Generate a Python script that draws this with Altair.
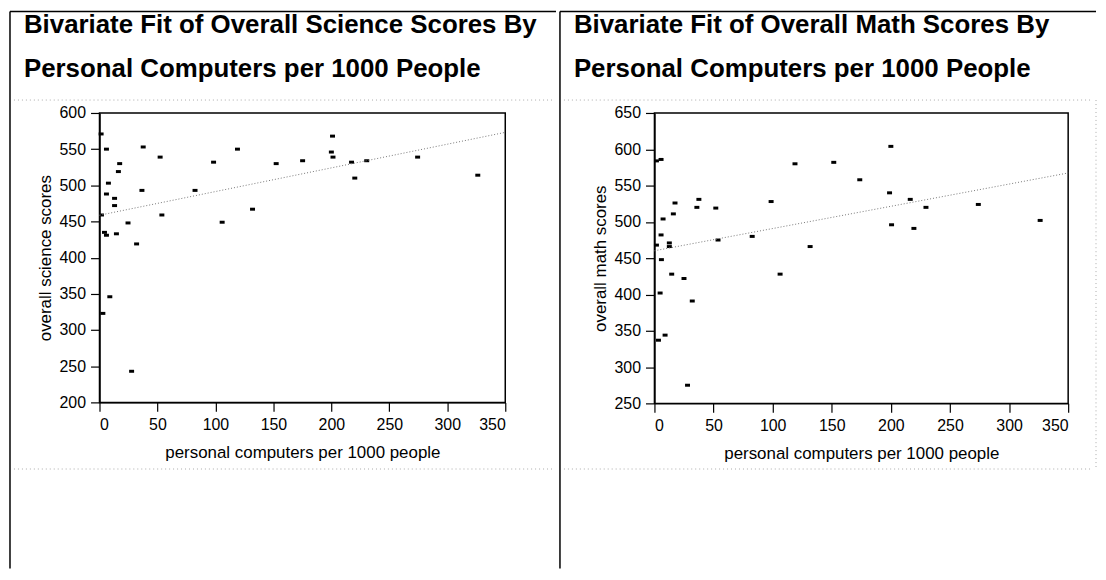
import altair as alt
import pandas as pd

# ---- data ----
sci_pc = [1.4, 1.7, 2.9, 4.3, 6.0, 6.0, 6.0, 7.7, 8.9, 13.0, 13.0, 14.6, 16.3, 17.4,
          24.6, 27.7, 32.0, 36.6, 37.7, 52.3, 53.8, 82.4, 98.4, 105.8, 119.0, 132.0,
          152.4, 175.2, 200.0, 201.0, 201.4, 217.4, 220.2, 230.5, 274.4, 326.3]
sci_scores = [571, 459, 323, 435, 550, 488, 431, 503, 346, 482, 472, 433, 519, 530,
              448, 243, 419, 493, 553, 539, 459, 493, 532, 449, 550, 467,
              530, 534, 546, 568, 539, 532, 510, 534, 539, 514]

math_pc = [1.7, 1.7, 3.4, 4.8, 5.6, 5.6, 5.9, 7.3, 9.0, 12.6, 12.6, 14.6, 16.0, 17.4,
           25.0, 28.0, 32.0, 35.9, 37.6, 51.9, 53.8, 82.7, 98.7, 106.3, 118.9, 131.7,
           151.7, 173.7, 198.9, 200.0, 200.6, 216.4, 219.5, 229.7, 274.0, 326.3]
math_scores = [584, 468, 337, 402, 586, 482, 448, 504, 344, 471, 466, 428, 511, 526,
               422, 275, 391, 520, 531, 519, 475, 480, 528, 428, 580, 466,
               582, 558, 540, 604, 496, 531, 491, 520, 524, 502]

x_ticks = [0, 50, 100, 150, 200, 250, 300, 350]
sci_ticks = [200, 250, 300, 350, 400, 450, 500, 550, 600]
math_ticks = [250, 300, 350, 400, 450, 500, 550, 600, 650]

sci_title = ["Bivariate Fit of Overall Science Scores By", "Personal Computers per 1000 People"]
math_title = ["Bivariate Fit of Overall Math Scores By", "Personal Computers per 1000 People"]
x_label = "personal computers per 1000 people"

FONT = "Liberation Sans"
RECT = "M-1,-0.6L1,-0.6L1,0.6L-1,0.6Z"
one = pd.DataFrame({"k": [0]})


def panel(pc, scores, ylab, yticks, title_lines, w, h, left_off, right_rule, right_border):
    df = pd.DataFrame({"pc": pc, "score": scores})
    xs = alt.Scale(domain=[0, 350], nice=False, zero=False)
    ys = alt.Scale(domain=[yticks[0], yticks[-1]], nice=False, zero=False)
    xenc = alt.X("pc:Q", scale=xs, title=x_label,
                 axis=alt.Axis(values=x_ticks, format="d"))
    yenc = alt.Y("score:Q", scale=ys, title=ylab,
                 axis=alt.Axis(values=yticks, format="d"))
    base = alt.Chart(df)
    pts = base.mark_point(shape=RECT, filled=True, color="black", size=25,
                          opacity=1).encode(x=xenc, y=yenc)
    fit = base.transform_regression("pc", "score", extent=[0, 350]).mark_line(
        color="#777777", strokeWidth=1, strokeDash=[1, 2]).encode(x=xenc, y=yenc)

    frame = alt.Chart(one)
    layers = [pts, fit]
    top = 8 - 110
    bottom = 568 - 110
    # panel borders (outline of the report box)
    layers.append(frame.mark_rule(color="black", strokeWidth=1.5).encode(
        x=alt.value(left_off), x2=alt.value(right_rule), y=alt.value(top)))
    layers.append(frame.mark_rule(color="black", strokeWidth=1.5).encode(
        x=alt.value(left_off), y=alt.value(top), y2=alt.value(bottom)))
    if right_border:
        layers.append(frame.mark_rule(color="#aaaaaa", strokeWidth=1, strokeDash=[1, 3]).encode(
            x=alt.value(right_rule), y=alt.value(-13), y2=alt.value(358)))
    # faint dotted separators
    layers.append(frame.mark_rule(color="#aaaaaa", strokeWidth=1, strokeDash=[1, 3]).encode(
        x=alt.value(left_off + 4), x2=alt.value(right_rule - 4), y=alt.value(-13)))
    layers.append(frame.mark_rule(color="#aaaaaa", strokeWidth=1, strokeDash=[1, 3]).encode(
        x=alt.value(left_off + 4), x2=alt.value(right_rule - 4), y=alt.value(358)))
    # title text
    layers.append(frame.mark_text(text=title_lines, align="left", baseline="alphabetic",
                                  font=FONT, fontSize=26, fontWeight="bold",
                                  lineHeight=44, color="black").encode(
        x=alt.value(left_off + 14), y=alt.value(-80)))
    return alt.layer(*layers).properties(width=w, height=h)


left = panel(sci_pc, sci_scores, "overall science scores", sci_ticks, sci_title,
             408, 291, -90, 459, False)
right = panel(math_pc, math_scores, "overall math scores", math_ticks, math_title,
              416, 292, -95, 444, True)

chart = alt.hconcat(left, right, spacing=0).properties(padding=0).configure_view(
    stroke="black", strokeWidth=1.5
).configure_axis(
    grid=False, labelFont=FONT, titleFont=FONT, labelFontSize=16, titleFontSize=17,
    titleFontWeight="normal", labelColor="black", titleColor="black",
    domainColor="black", domainWidth=1.5, tickColor="black", tickWidth=1.2,
    tickSize=9, labelPadding=5
).configure_axisX(titlePadding=12).configure_axisY(titlePadding=5)

chart.save("out.html", embed_options={"renderer": "svg", "actions": False})
